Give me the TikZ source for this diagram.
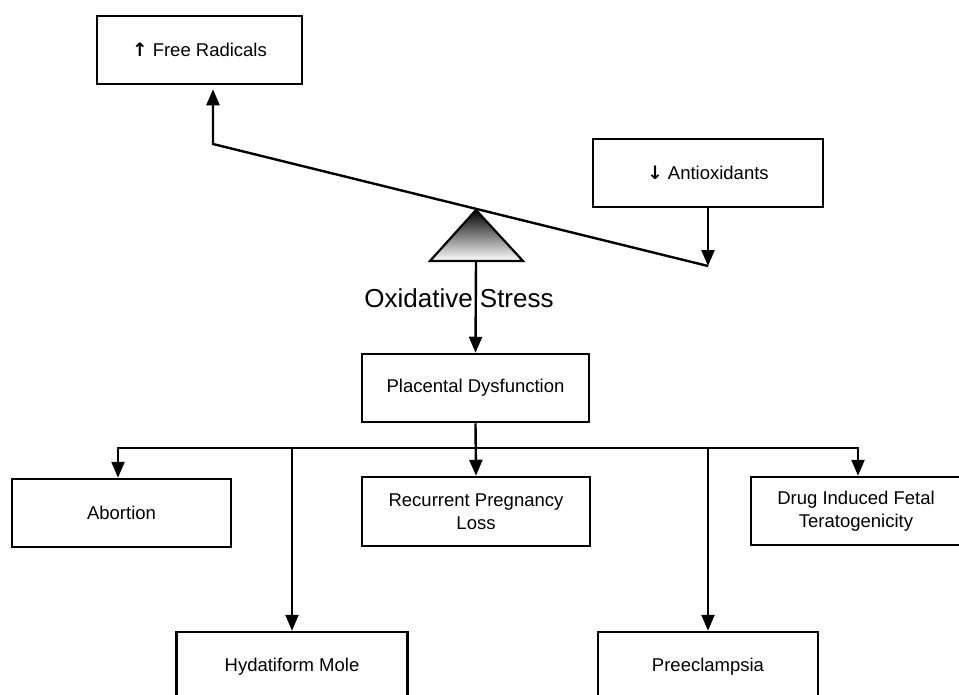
\documentclass[tikz,border=0pt]{standalone}
\usepackage{fontspec}
\setmainfont{Liberation Sans}
\newfontfamily\arrowfont{DejaVu Sans Bold}
\usetikzlibrary{arrows.meta}
\tikzset{box/.style = {draw, line width = 2.5pt, align = center, inner sep = 0, font = \fontsize{18.5}{23}\selectfont}}
\tikzset{link/.style = {line width = 2.4pt}}
\tikzset{arr/.style = {link, -{Triangle[length = 16pt, width = 13pt]}}}

\begin{document}
\begin{tikzpicture}[x = 1pt, y = -1pt]
    \useasboundingbox (0,0) rectangle (959,694);
    % boxes
    \node[box, minimum width = 205pt, minimum height = 68pt] (fr) at (199.5,50) {{\arrowfont ↑} Free Radicals};
    \node[box, minimum width = 230pt, minimum height = 68pt] (anti) at (708,173) {{\arrowfont ↓} Antioxidants};
    \node[box, minimum width = 227pt, minimum height = 68pt] (plac) at (475.5,388) {Placental Dysfunction};
    \node[box, minimum width = 219pt, minimum height = 68pt] (abort) at (121.5,513) {Abortion};
    \node[box, minimum width = 228pt, minimum height = 69pt] (recur) at (476,511.5) {Recurrent Pregnancy\\Loss};
    \node[box, minimum width = 210pt, minimum height = 68pt] (drug) at (856,511) {Drug Induced Fetal\\Teratogenicity};
    \node[box, minimum width = 231pt, minimum height = 70pt] (hyd) at (292,667) {Hydatiform Mole};
    \node[box, minimum width = 220pt, minimum height = 70pt] (pre) at (708,667) {Preeclampsia};
    % seesaw
    \coordinate (levL) at (213,144);
    \coordinate (levR) at (708,266);
    \coordinate (apex) at (476,210);
    \coordinate (baseL) at (430,261);
    \coordinate (baseR) at (523,261);
    \coordinate (pivot) at (476,261);
    \shade[top color = black, bottom color = white, draw, line width = 2.2pt, line join = miter]
        (apex) -- (baseL) -- (baseR) -- cycle;
    \draw[arr, shorten > = 4pt] (levR) -- (levL) -- (levL |- fr.south);
    \draw[arr] (anti.south) -- (levR);
    \node[font = \fontsize{26}{30}\selectfont, anchor = base, inner sep = 0] (ox) at (459,307) {Oxidative Stress};
    \draw[arr] (pivot) -- (plac.north);
    % branches
    \coordinate (busL) at (118,448);
    \coordinate (busR) at (858,448);
    \draw[arr] (plac.south) -- (recur.north);
    \draw[arr] (plac.south |- busL) -- (busL) -- (busL |- abort.north);
    \draw[arr] (plac.south |- busR) -- (busR) -- (busR |- drug.north);
    \draw[arr] (busL -| hyd.north) -- (hyd.north);
    \draw[arr] (busL -| pre.north) -- (pre.north);
\end{tikzpicture}
\end{document}
